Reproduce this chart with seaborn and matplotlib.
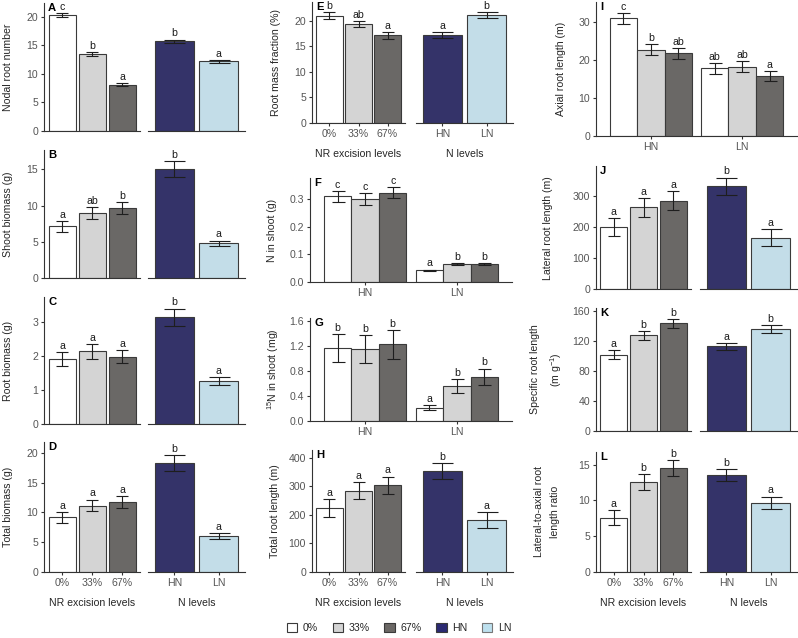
import numpy as np
import pandas as pd
import matplotlib
matplotlib.use('Agg')
import matplotlib.pyplot as plt
import matplotlib.colors as mcolors
from matplotlib.patches import Patch
from matplotlib.ticker import FormatStrFormatter
import seaborn as sns

# levels and colours
nr_levels = ['0%', '33%', '67%']
n_levels = ['HN', 'LN']
colors = {'0%': '#ffffff', '33%': '#d4d4d4', '67%': '#6b6865',
          'HN': '#2b2a72', 'LN': '#bde0ee'}

# A - nodal root number
nodal_nr = [20.3, 13.5, 8.1]
nodal_nr_se = [0.3, 0.35, 0.3]
nodal_nr_sig = ['c', 'b', 'a']
nodal_n = [15.7, 12.2]
nodal_n_se = [0.3, 0.25]
nodal_n_sig = ['b', 'a']

# B - shoot biomass
shoot_nr = [7.1, 8.95, 9.65]
shoot_nr_se = [0.7, 0.8, 0.85]
shoot_nr_sig = ['a', 'ab', 'b']
shoot_n = [15.05, 4.78]
shoot_n_se = [1.15, 0.37]
shoot_n_sig = ['b', 'a']

# C - root biomass
root_nr = [1.9, 2.13, 1.98]
root_nr_se = [0.2, 0.22, 0.2]
root_nr_sig = ['a', 'a', 'a']
root_n = [3.13, 1.27]
root_n_se = [0.26, 0.11]
root_n_sig = ['b', 'a']

# D - total biomass
total_nr = [9.15, 11.15, 11.75]
total_nr_se = [0.85, 1.0, 1.05]
total_nr_sig = ['a', 'a', 'a']
total_n = [18.27, 6.1]
total_n_se = [1.4, 0.5]
total_n_sig = ['b', 'a']

# E - root mass fraction
rmf_nr = [21.0, 19.4, 17.2]
rmf_nr_se = [0.65, 0.65, 0.7]
rmf_nr_sig = ['b', 'ab', 'a']
rmf_n = [17.2, 21.15]
rmf_n_se = [0.55, 0.55]
rmf_n_sig = ['a', 'b']

# F - N in shoot (HN / LN x excision level)
nshoot_hn = [0.31, 0.30, 0.322]
nshoot_hn_se = [0.02, 0.02, 0.02]
nshoot_hn_sig = ['c', 'c', 'c']
nshoot_ln = [0.043, 0.064, 0.066]
nshoot_ln_se = [0.002, 0.003, 0.003]
nshoot_ln_sig = ['a', 'b', 'b']

# G - 15N in shoot
n15_hn = [1.16, 1.15, 1.22]
n15_hn_se = [0.22, 0.22, 0.23]
n15_hn_sig = ['b', 'b', 'b']
n15_ln = [0.21, 0.555, 0.70]
n15_ln_se = [0.045, 0.105, 0.135]
n15_ln_sig = ['a', 'b', 'b']

# H - total root length
trl_nr = [225, 284, 304]
trl_nr_se = [31, 30, 30]
trl_nr_sig = ['a', 'a', 'a']
trl_n = [354, 183]
trl_n_se = [28, 28]
trl_n_sig = ['b', 'a']

# I - axial root length
arl_hn = [30.9, 22.7, 21.7]
arl_hn_se = [1.5, 1.4, 1.5]
arl_hn_sig = ['c', 'b', 'ab']
arl_ln = [17.8, 18.2, 15.7]
arl_ln_se = [1.45, 1.4, 1.35]
arl_ln_sig = ['ab', 'ab', 'a']

# J - lateral root length
lrl_nr = [200, 263, 285]
lrl_nr_se = [30, 31, 31]
lrl_nr_sig = ['a', 'a', 'a']
lrl_n = [331, 166]
lrl_n_se = [28, 27]
lrl_n_sig = ['b', 'a']

# K - specific root length
srl_nr = [101.5, 127, 143]
srl_nr_se = [6, 6, 6]
srl_nr_sig = ['a', 'b', 'b']
srl_n = [112.5, 135.5]
srl_n_se = [4.5, 5]
srl_n_sig = ['a', 'b']

# L - lateral-to-axial ratio
ratio_nr = [7.6, 12.6, 14.6]
ratio_nr_se = [1.0, 1.1, 1.1]
ratio_nr_sig = ['a', 'b', 'b']
ratio_n = [13.55, 9.65]
ratio_n_se = [0.85, 0.9]
ratio_n_sig = ['b', 'a']

sns.set_theme(style='ticks')
plt.rcParams['font.family'] = ['Liberation Sans', 'DejaVu Sans']
plt.rcParams['mathtext.fontset'] = 'custom'
plt.rcParams['mathtext.rm'] = 'Liberation Sans'
plt.rcParams['mathtext.it'] = 'Liberation Sans:italic'

FS = 7.6
edge = '#3a3a3a'
edge_ln = '#777777'
err_col = '#1e1e1e'
axis_col = '#333333'
tick_txt = '#555555'
title_col = '#262626'

W, H = 798, 638
fig = plt.figure(figsize=(W / 100, H / 100), dpi=100)


def add_ax(x0, x1, y0, y1):
    return fig.add_axes([x0 / W, 1 - y1 / H, (x1 - x0) / W, (y1 - y0) / H])


def style(ax, ylim, yticks, fmt, left=True):
    ax.set_ylim(*ylim)
    ax.set_yticks(yticks)
    ax.yaxis.set_major_formatter(FormatStrFormatter(fmt))
    sns.despine(ax=ax, left=not left)
    for s in ['left', 'bottom']:
        ax.spines[s].set_color(axis_col)
        ax.spines[s].set_linewidth(0.8)
    ax.tick_params(axis='both', labelsize=FS, labelcolor=tick_txt, color=axis_col,
                   length=2.5, width=0.8, pad=1.8)
    if not left:
        ax.tick_params(axis='y', left=False, labelleft=False)
    ax.set_xlabel('')
    ax.set_ylabel('')
    ax.set_facecolor('none')


def add_err(ax, xs, vals, se, sig, cap_px):
    ax.errorbar(xs, vals, yerr=se, fmt='none', ecolor=err_col, elinewidth=0.8,
                capsize=cap_px * 0.72 / 2, capthick=0.8, zorder=3)
    for x, v, s, l in zip(xs, vals, se, sig):
        ax.annotate(l, (x, v + s), xytext=(0, 0.8), textcoords='offset points',
                    ha='center', va='bottom', fontsize=FS, color='#1a1a1a')
    ln_rgb = mcolors.to_rgb(colors['LN'])
    for p in ax.patches:
        if np.allclose(p.get_facecolor()[:3], ln_rgb, atol=0.01):
            p.set_edgecolor(edge_ln)


def bar_panel(ax, cats, vals, se, sig, cap_px):
    df = pd.DataFrame({'level': cats, 'value': vals})
    sns.barplot(data=df, x='level', y='value', hue='level', order=cats, hue_order=cats,
                palette=colors, width=0.9, edgecolor=edge, linewidth=0.8,
                errorbar=None, legend=False, ax=ax)
    add_err(ax, np.arange(len(cats)), vals, se, sig, cap_px)
    ax.set_xlim(-0.6, len(cats) - 0.4)


def grouped_panel(ax, hn, hn_se, hn_sig, ln, ln_se, ln_sig):
    df = pd.DataFrame({'N': np.repeat(n_levels, 3), 'NR': nr_levels * 2,
                       'value': hn + ln})
    sns.barplot(data=df, x='N', y='value', hue='NR', order=n_levels,
                hue_order=nr_levels, palette=colors, width=0.9, gap=0,
                edgecolor=edge, linewidth=0.8, errorbar=None, legend=False, ax=ax)
    ses = [hn_se, ln_se]
    sigs = [hn_sig, ln_sig]
    xs, vs, ss, ls = [], [], [], []
    for i, cont in enumerate(ax.containers):
        for j, p in enumerate(cont):
            xs.append(p.get_x() + p.get_width() / 2)
            vs.append(p.get_height())
            ss.append(ses[j][i])
            ls.append(sigs[j][i])
    add_err(ax, xs, vs, ss, ls, 13)
    ax.set_xlim(-0.6, 1.6)


def panel_letter(ax, letter):
    ax.annotate(letter, (0, 1), xycoords='axes fraction', xytext=(3, 0),
                textcoords='offset points', ha='left', va='top',
                fontsize=FS + 0.5, fontweight='bold', color='black')


def set_ylab(ax, text, lx, x0, x1):
    ax.set_ylabel(text, fontsize=FS, color=title_col, linespacing=1.7)
    ax.yaxis.set_label_coords((lx - x0) / (x1 - x0), 0.5)
    ax.yaxis.label.set_verticalalignment('center')


def split(xl, xr, rows, nr, nr_se, nr_sig, n, n_se, n_sig, ylim, yticks, fmt,
          ylabel, lx, letter, bottom):
    axl = add_ax(xl[0], xl[1], rows[0], rows[1])
    axr = add_ax(xr[0], xr[1], rows[0], rows[1])
    bar_panel(axl, nr_levels, nr, nr_se, nr_sig, 12)
    bar_panel(axr, n_levels, n, n_se, n_sig, 21)
    style(axl, ylim, yticks, fmt, left=True)
    style(axr, ylim, yticks, fmt, left=False)
    set_ylab(axl, ylabel, lx, xl[0], xl[1])
    panel_letter(axl, letter)
    for a, name in [(axl, 'NR excision levels'), (axr, 'N levels')]:
        if bottom:
            a.set_xlabel(name, fontsize=FS, color=title_col, labelpad=7.5)
        else:
            a.tick_params(axis='x', bottom=False, labelbottom=False)


def grouped(xs, rows, hn, hn_se, hn_sig, ln, ln_se, ln_sig, ylim, yticks, fmt,
            ylabel, lx, letter):
    ax = add_ax(xs[0], xs[1], rows[0], rows[1])
    grouped_panel(ax, hn, hn_se, hn_sig, ln, ln_se, ln_sig)
    style(ax, ylim, yticks, fmt)
    set_ylab(ax, ylabel, lx, xs[0], xs[1])
    panel_letter(ax, letter)


c1l, c1r = (44, 140), (148, 245)
c2l, c2r = (312, 405), (416, 513)
c2g = (310, 512)
c3l, c3r = (596, 691), (700, 797)
c3g = (596, 797)

split(c1l, c1r, (3, 131), nodal_nr, nodal_nr_se, nodal_nr_sig, nodal_n, nodal_n_se,
      nodal_n_sig, (0, 22.4), [0, 5, 10, 15, 20], '%d', 'Nodal root number', 8, 'A', False)
split(c1l, c1r, (150, 277.7), shoot_nr, shoot_nr_se, shoot_nr_sig, shoot_n, shoot_n_se,
      shoot_n_sig, (0, 17.7), [0, 5, 10, 15], '%d', 'Shoot biomass (g)', 8, 'B', False)
split(c1l, c1r, (297, 424), root_nr, root_nr_se, root_nr_sig, root_n, root_n_se,
      root_n_sig, (0, 3.73), [0, 1, 2, 3], '%d', 'Root biomass (g)', 8, 'C', False)
split(c1l, c1r, (442, 572), total_nr, total_nr_se, total_nr_sig, total_n, total_n_se,
      total_n_sig, (0, 21.8), [0, 5, 10, 15, 20], '%d', 'Total biomass (g)', 8, 'D', True)

split(c2l, c2r, (2, 123), rmf_nr, rmf_nr_se, rmf_nr_sig, rmf_n, rmf_n_se, rmf_n_sig,
      (0, 23.7), [0, 5, 10, 15, 20], '%d', 'Root mass fraction (%)', 276, 'E', True)
grouped(c2g, (178, 282), nshoot_hn, nshoot_hn_se, nshoot_hn_sig, nshoot_ln, nshoot_ln_se,
        nshoot_ln_sig, (0, 0.376), [0, 0.1, 0.2, 0.3], '%.1f', 'N in shoot (g)', 272, 'F')
grouped(c2g, (318, 420.7), n15_hn, n15_hn_se, n15_hn_sig, n15_ln, n15_ln_se, n15_ln_sig,
        (0, 1.643), [0, 0.4, 0.8, 1.2, 1.6], '%.1f', '$^{15}$N in shoot (mg)', 273, 'G')
split(c2l, c2r, (450, 572), trl_nr, trl_nr_se, trl_nr_sig, trl_n, trl_n_se, trl_n_sig,
      (0, 427), [0, 100, 200, 300, 400], '%d', 'Total root length (m)', 275, 'H', True)

grouped(c3g, (2, 136), arl_hn, arl_hn_se, arl_hn_sig, arl_ln, arl_ln_se, arl_ln_sig,
        (0, 35.2), [0, 10, 20, 30], '%d', 'Axial root length (m)', 561, 'I')
split(c3l, c3r, (166, 289.3), lrl_nr, lrl_nr_se, lrl_nr_sig, lrl_n, lrl_n_se, lrl_n_sig,
      (0, 396), [0, 100, 200, 300], '%d', 'Lateral root length (m)', 548, 'J', False)
split(c3l, c3r, (308, 431), srl_nr, srl_nr_se, srl_nr_sig, srl_n, srl_n_se, srl_n_sig,
      (0, 163.5), [0, 40, 80, 120, 160], '%d', 'Specific root length\n(m g$^{-1}$)', 547,
      'K', False)
split(c3l, c3r, (452, 571.7), ratio_nr, ratio_nr_se, ratio_nr_sig, ratio_n, ratio_n_se,
      ratio_n_sig, (0, 16.8), [0, 5, 10, 15], '%d', 'Lateral-to-axial root\nlength ratio',
      547, 'L', True)

handles = [Patch(facecolor=colors[k], edgecolor=edge_ln if k == 'LN' else edge, linewidth=0.8)
           for k in nr_levels + n_levels]
fig.legend(handles, nr_levels + n_levels, loc='center', bbox_to_anchor=(0.5, 1 - 628 / H),
           ncol=5, frameon=False, fontsize=FS, handlelength=1.0, handleheight=1.0,
           handletextpad=0.5, columnspacing=1.4, labelcolor=title_col)

fig.savefig('out.png', dpi=100)
